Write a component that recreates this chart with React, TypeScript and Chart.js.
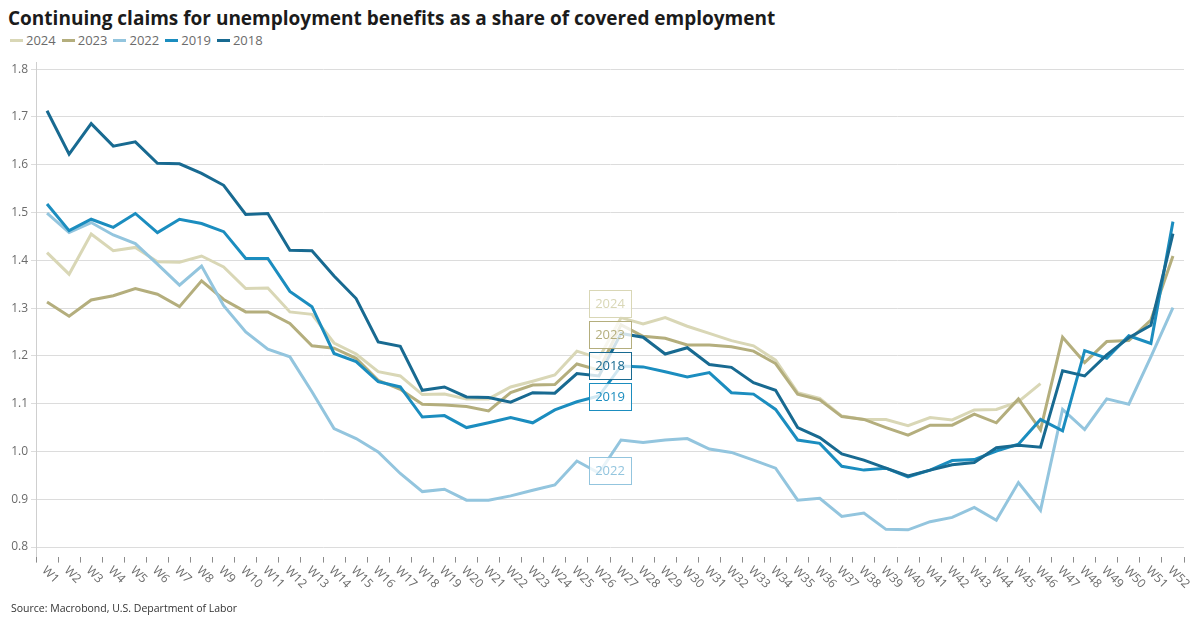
import React, { useEffect, useRef } from 'react';
import { Chart, registerables } from 'chart.js';

Chart.register(...registerables);

const weeks = [
  'W1', 'W2', 'W3', 'W4', 'W5', 'W6', 'W7', 'W8', 'W9', 'W10',
  'W11', 'W12', 'W13', 'W14', 'W15', 'W16', 'W17', 'W18', 'W19', 'W20',
  'W21', 'W22', 'W23', 'W24', 'W25', 'W26', 'W27', 'W28', 'W29', 'W30',
  'W31', 'W32', 'W33', 'W34', 'W35', 'W36', 'W37', 'W38', 'W39', 'W40',
  'W41', 'W42', 'W43', 'W44', 'W45', 'W46', 'W47', 'W48', 'W49', 'W50',
  'W51', 'W52',
];

const years = ['2024', '2023', '2022', '2019', '2018'];

const y2024 = [
  1.416, 1.371, 1.455, 1.420, 1.427, 1.397, 1.396, 1.409, 1.386, 1.341,
  1.342, 1.292, 1.287, 1.227, 1.204, 1.167, 1.158, 1.119, 1.120, 1.110,
  1.110, 1.135, 1.147, 1.160, 1.210, 1.195, 1.280, 1.267, 1.280, 1.262,
  1.247, 1.232, 1.221, 1.191, 1.123, 1.111, 1.074, 1.067, 1.067, 1.054,
  1.071, 1.066, 1.087, 1.088, 1.104, 1.142, null, null, null, null,
  null, null,
];

const y2023 = [
  1.313, 1.283, 1.317, 1.326, 1.341, 1.329, 1.303, 1.357, 1.318, 1.292,
  1.292, 1.268, 1.221, 1.216, 1.195, 1.149, 1.130, 1.099, 1.097, 1.094,
  1.085, 1.123, 1.139, 1.140, 1.183, 1.170, 1.265, 1.241, 1.237, 1.223,
  1.223, 1.219, 1.210, 1.184, 1.120, 1.108, 1.073, 1.067, 1.050, 1.034,
  1.055, 1.055, 1.078, 1.060, 1.110, 1.045, 1.239, 1.186, 1.230, 1.232,
  1.275, 1.409,
];

const y2022 = [
  1.499, 1.458, 1.479, 1.453, 1.435, 1.392, 1.348, 1.388, 1.305, 1.250,
  1.214, 1.198, 1.125, 1.048, 1.027, 0.999, 0.954, 0.916, 0.921, 0.898,
  0.898, 0.907, 0.919, 0.930, 0.980, 0.955, 1.024, 1.019, 1.024, 1.027,
  1.005, 0.998, 0.982, 0.965, 0.898, 0.902, 0.864, 0.871, 0.837, 0.836,
  0.853, 0.862, 0.883, 0.856, 0.935, 0.877, 1.088, 1.046, 1.110, 1.099,
  1.198, 1.301,
];

const y2019 = [
  1.518, 1.462, 1.486, 1.469, 1.498, 1.458, 1.486, 1.477, 1.460, 1.404,
  1.404, 1.335, 1.303, 1.205, 1.188, 1.146, 1.135, 1.072, 1.075, 1.050,
  1.060, 1.071, 1.060, 1.087, 1.104, 1.116, 1.179, 1.177, 1.167, 1.156,
  1.165, 1.123, 1.120, 1.088, 1.024, 1.017, 0.969, 0.961, 0.965, 0.947,
  0.961, 0.981, 0.983, 1.001, 1.015, 1.067, 1.043, 1.211, 1.195, 1.242,
  1.226, 1.481,
];

const y2018 = [
  1.713, 1.622, 1.686, 1.639, 1.648, 1.603, 1.602, 1.582, 1.557, 1.496,
  1.498, 1.421, 1.420, 1.367, 1.320, 1.229, 1.220, 1.128, 1.135, 1.114,
  1.113, 1.103, 1.123, 1.122, 1.163, 1.158, 1.247, 1.239, 1.204, 1.217,
  1.182, 1.176, 1.144, 1.128, 1.050, 1.029, 0.995, 0.982, 0.965, 0.949,
  0.961, 0.972, 0.977, 1.008, 1.013, 1.009, 1.169, 1.158, 1.202, 1.238,
  1.264, 1.456,
];

const yTicks = [0.8, 0.9, 1.0, 1.1, 1.2, 1.3, 1.4, 1.5, 1.6, 1.7, 1.8];

const series = [y2024, y2023, y2022, y2019, y2018];
const colors = ['#d9d7b6', '#b4ae7d', '#93c5de', '#1b8dbf', '#186a91'];

const FONT = '"Open Sans", "Noto Sans", sans-serif';

// Name tags stacked between W26 and W27, each placed at a value level.
const tagSlots: [number, number][] = [
  [0, 1.3105],
  [1, 1.2446],
  [4, 1.1797],
  [3, 1.1149],
  [2, 0.96],
];

const weekLabelsPlugin = {
  id: 'weekLabels',
  afterDraw(chart: any) {
    const { ctx, chartArea } = chart;
    const x = chart.scales.x;
    ctx.save();
    ctx.font = `12px ${FONT}`;
    ctx.fillStyle = '#6b6b6b';
    ctx.textAlign = 'left';
    ctx.textBaseline = 'middle';
    weeks.forEach((w, i) => {
      const px = x.getPixelForValue(i);
      ctx.save();
      ctx.translate(px - 3, chartArea.bottom + 12);
      ctx.rotate(Math.PI / 4);
      ctx.fillText(w, 0, 0);
      ctx.restore();
    });
    ctx.restore();
  },
};

const nameTagsPlugin = {
  id: 'nameTags',
  afterDatasetsDraw(chart: any) {
    const { ctx } = chart;
    const x = chart.scales.x;
    const y = chart.scales.y;
    const cx = (x.getPixelForValue(25) + x.getPixelForValue(26)) / 2;
    const w = 42;
    const h = 27;
    ctx.save();
    ctx.font = `13px ${FONT}`;
    ctx.textAlign = 'center';
    ctx.textBaseline = 'middle';
    tagSlots.forEach(([idx, level]) => {
      const cy = y.getPixelForValue(level);
      const left = Math.round(cx - w / 2) + 0.5;
      const top = Math.round(cy - h / 2) + 0.5;
      ctx.fillStyle = 'rgba(255,255,255,0.8)';
      ctx.fillRect(left, top, w, h);
      ctx.strokeStyle = colors[idx];
      ctx.lineWidth = 1;
      ctx.strokeRect(left, top, w, h);
      ctx.fillStyle = colors[idx];
      ctx.fillText(years[idx], cx, cy + 1);
    });
    ctx.restore();
  },
};

export default function App() {
  const canvasRef = useRef<HTMLCanvasElement | null>(null);

  useEffect(() => {
    const canvas = canvasRef.current;
    if (!canvas) return;
    const chart = new Chart(canvas, {
      type: 'line',
      data: {
        labels: weeks,
        datasets: series.map((values, i) => ({
          label: years[i],
          data: values,
          borderColor: colors[i],
          backgroundColor: colors[i],
          borderWidth: 3,
          pointRadius: 0,
          tension: 0,
          spanGaps: false,
          order: series.length - i,
        })),
      },
      options: {
        responsive: false,
        animation: false,
        devicePixelRatio: 1,
        layout: { padding: { left: 8, right: 16, top: 62, bottom: 0 } },
        plugins: {
          legend: { display: false },
          title: { display: false },
          tooltip: { enabled: false },
        },
        scales: {
          x: {
            type: 'category',
            offset: true,
            border: { display: false },
            grid: {
              display: true,
              offset: true,
              drawOnChartArea: false,
              drawTicks: true,
              tickLength: 6,
              color: '#8c8c8c',
            },
            ticks: { display: false },
            afterFit(scale: any) {
              scale.height = 70.4;
            },
          },
          y: {
            min: 0.78,
            max: 1.815,
            border: { display: true, color: '#cfcfcf' },
            grid: { color: '#dcdcdc', tickLength: 5, drawTicks: true },
            ticks: {
              color: '#6b6b6b',
              font: { family: FONT, size: 12 },
              padding: 3,
              callback: (v: any) => Number(v).toFixed(1),
            },
            afterBuildTicks(scale: any) {
              scale.ticks = yTicks.map((v) => ({ value: v }));
            },
            afterFit(scale: any) {
              scale.width = 28;
            },
          },
        },
      },
      plugins: [nameTagsPlugin, weekLabelsPlugin],
    });
    return () => chart.destroy();
  }, []);

  return (
    <div
      style={{
        position: 'fixed',
        left: 0,
        top: 0,
        width: 1200,
        height: 627,
        background: '#ffffff',
        fontFamily: FONT,
        overflow: 'hidden',
      }}
    >
      <div
        style={{
          position: 'absolute',
          left: 8,
          top: 9,
          fontSize: 19,
          lineHeight: '19px',
          fontWeight: 700,
          color: '#1b1b1b',
          whiteSpace: 'nowrap',
        }}
      >
        Continuing claims for unemployment benefits as a share of covered employment
      </div>
      <div
        style={{
          position: 'absolute',
          left: 10,
          top: 34,
          display: 'flex',
          alignItems: 'center',
          height: 13,
        }}
      >
        {years.map((yr, i) => (
          <div key={yr} style={{ display: 'flex', alignItems: 'center', marginRight: 6 }}>
            <span
              style={{
                display: 'inline-block',
                width: 13,
                height: 3,
                background: colors[i],
                marginRight: 3,
              }}
            />
            <span style={{ fontSize: 13, lineHeight: '13px', color: '#6b6b6b' }}>{yr}</span>
          </div>
        ))}
      </div>
      <canvas
        ref={canvasRef}
        width={1200}
        height={627}
        style={{ position: 'absolute', left: 0, top: 0, width: 1200, height: 627 }}
      />
      <div
        style={{
          position: 'absolute',
          left: 11,
          top: 602,
          fontSize: 10.5,
          lineHeight: '13px',
          color: '#333333',
          whiteSpace: 'nowrap',
        }}
      >
        Source: Macrobond, U.S. Department of Labor
      </div>
    </div>
  );
}
